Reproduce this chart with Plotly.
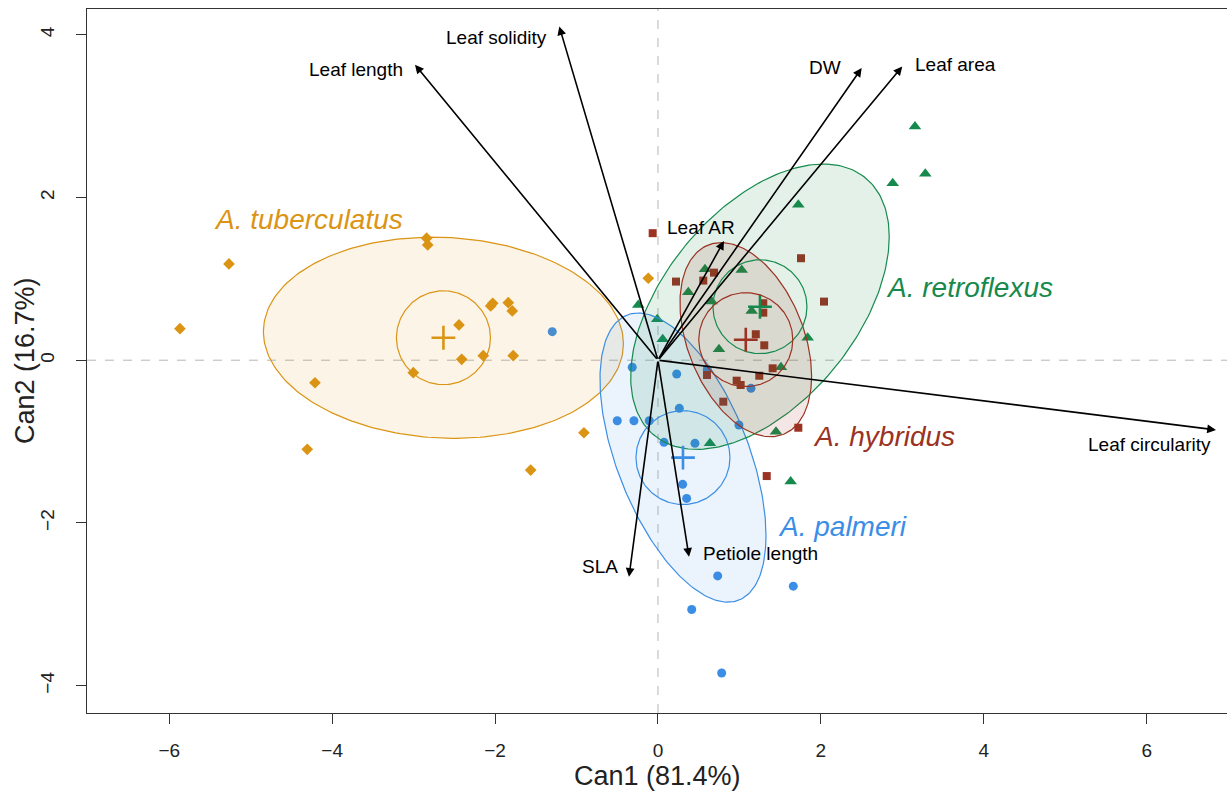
import numpy as np
import plotly.graph_objects as go

# ---------------- data (canonical scores) ----------------
species = ["A. tuberculatus", "A. palmeri", "A. retroflexus", "A. hybridus"]

tub_x = [-2.840, -2.827, -2.054, -2.029, -1.838, -1.789, -2.443, -2.410, -2.145,
         -1.777, -3.004, -4.211, -0.909, -4.306, -0.119, -5.267, -5.869, -1.563]
tub_y = [1.499, 1.417, 0.667, 0.700, 0.707, 0.605, 0.433, 0.011, 0.055,
         0.055, -0.154, -0.277, -0.892, -1.096, 1.007, 1.183, 0.387, -1.351]

pal_x = [-1.298, -0.316, 0.230, 0.605, 1.142, 0.262, -0.500, -0.295, -0.107,
         0.994, 0.074, 0.454, 0.303, 0.352, 0.733, 1.661, 0.414, 0.782]
pal_y = [0.351, -0.087, -0.170, -0.112, -0.346, -0.592, -0.744, -0.744, -0.744,
         -0.797, -1.010, -1.022, -1.526, -1.699, -2.651, -2.777, -3.064, -3.844]

ret_x = [2.882, 1.723, 0.577, 1.028, 0.372, 0.659, -0.242, 1.150, -0.009,
         0.058, 1.838, 0.749, 1.510, 1.449, 0.638, 1.629, 3.155, 3.282]
ret_y = [2.176, 1.909, 1.118, 1.109, 0.835, 0.720, 0.679, 0.605, 0.503,
         0.257, 0.277, 0.134, -0.087, -0.879, -1.022, -1.490, 2.872, 2.290]

hyb_x = [-0.065, 1.756, 0.688, 0.221, 0.556, 2.038, 1.293, 1.293, 1.201,
         1.305, 1.408, 1.244, 0.966, 1.015, 0.602, 0.802, 1.723, 1.335]
hyb_y = [1.561, 1.253, 1.076, 0.966, 0.978, 0.720, 0.700, 0.584, 0.319,
         0.183, -0.100, -0.191, -0.252, -0.305, -0.182, -0.510, -0.830, -1.424]

# group means and data ellipses (half-width, half-height, correlation)
mean_x = [-2.634, 0.307, 1.252, 1.078]
mean_y = [0.276, -1.197, 0.657, 0.252]
ell_hw = [2.21, 1.019, 1.587, 0.808]
ell_hh = [1.236, 1.777, 1.753, 1.193]
ell_r = [-0.06, -0.54, 0.49, -0.375]
mean_radius = 0.577

# structure vectors
var_names = ["Leaf length", "Leaf solidity", "DW", "Leaf area", "Leaf AR",
             "Leaf circularity", "SLA", "Petiole length"]
var_x = [-2.983, -1.212, 2.501, 2.999, 0.810, 6.851, -0.356, 0.381]
var_y = [3.631, 4.102, 3.590, 3.610, 1.466, -0.857, -2.663, -2.417]

x_ticks = [-6, -4, -2, 0, 2, 4, 6]
y_ticks = [-4, -2, 0, 2, 4]
x_title = "Can1 (81.4%)"
y_title = "Can2 (16.7%)"

# ---------------- styles ----------------
FONT = "Liberation Sans, Arial, Helvetica, sans-serif"
colors = ["#DB9414", "#3B8EE5", "#168A4C", "#9B3222"]
fills = ["rgba(219,148,20,0.10)", "rgba(59,142,229,0.10)",
         "rgba(22,138,76,0.12)", "rgba(155,50,34,0.12)"]
symbols = ["diamond", "circle", "triangle-up", "square"]
msizes = [9, 9, 11, 8]

# label placement for vectors: (xanchor, xshift, yshift)
vec_label_style = [("right", -10, -5), ("right", -10, -11), ("right", -19, 1),
                   ("left", 11, 2), ("center", -23, 13), ("right", -3, -15),
                   ("right", -9, 10), ("left", 12, 3)]
# species label placement (x, y of left edge, data units)
sp_label_pos = [(-5.48, 1.724), (1.45, -2.048), (2.78, 0.888), (1.88, -0.941)]

pts_x = [tub_x, pal_x, ret_x, hyb_x]
pts_y = [tub_y, pal_y, ret_y, hyb_y]

fig = go.Figure()

# reference lines
fig.add_shape(type="line", x0=0, x1=0, y0=-4.336, y1=4.316, xref="x", yref="y",
              line=dict(color="#B5B5B5", width=1, dash="dash"), layer="below")
fig.add_shape(type="line", x0=-7.01, x1=6.986, y0=0, y1=0, xref="x", yref="y",
              line=dict(color="#B5B5B5", width=1, dash="dash"), layer="below")

t = np.linspace(0, 2 * np.pi, 240)


def ellipse(cx, cy, hw, hh, r):
    l11 = hw
    l21 = r * hh
    l22 = hh * np.sqrt(1 - r * r)
    return cx + l11 * np.cos(t), cy + l21 * np.cos(t) + l22 * np.sin(t)


# points
for i in range(4):
    fig.add_trace(go.Scatter(x=pts_x[i], y=pts_y[i], mode="markers",
                             marker=dict(symbol=symbols[i], size=msizes[i], color=colors[i],
                                         line=dict(width=0)),
                             showlegend=False, hoverinfo="skip"))

# data ellipses (filled)
for i in range(4):
    ex, ey = ellipse(mean_x[i], mean_y[i], ell_hw[i], ell_hh[i], ell_r[i])
    fig.add_trace(go.Scatter(x=ex, y=ey, mode="lines", fill="toself",
                             fillcolor=fills[i], line=dict(color=colors[i], width=1.2),
                             showlegend=False, hoverinfo="skip"))

# mean circles and centroids
for i in range(4):
    ex, ey = ellipse(mean_x[i], mean_y[i], mean_radius, mean_radius, 0.0)
    fig.add_trace(go.Scatter(x=ex, y=ey, mode="lines",
                             line=dict(color=colors[i], width=1.2),
                             showlegend=False, hoverinfo="skip"))
    fig.add_trace(go.Scatter(x=[mean_x[i]], y=[mean_y[i]], mode="markers",
                             marker=dict(symbol="cross-thin", size=17, color=colors[i],
                                         line=dict(width=2.6, color=colors[i])),
                             showlegend=False, hoverinfo="skip"))

annotations = []
# vectors
for i, name in enumerate(var_names):
    annotations.append(dict(x=var_x[i], y=var_y[i], ax=0, ay=0, xref="x", yref="y",
                            axref="x", ayref="y", text="", showarrow=True,
                            arrowhead=2, arrowsize=1.1, arrowwidth=1.6,
                            arrowcolor="#000000"))
    xa, xs, ys = vec_label_style[i]
    annotations.append(dict(x=var_x[i], y=var_y[i], xref="x", yref="y", text=name,
                            showarrow=False, xanchor=xa, yanchor="middle",
                            xshift=xs, yshift=ys,
                            font=dict(family=FONT, size=19, color="#000000")))

# species labels
for i, name in enumerate(species):
    annotations.append(dict(x=sp_label_pos[i][0], y=sp_label_pos[i][1], xref="x", yref="y",
                            text="<i>" + name + "</i>", showarrow=False,
                            xanchor="left", yanchor="middle",
                            font=dict(family=FONT, size=28, color=colors[i])))

# axis titles
annotations.append(dict(x=0.5, y=0, xref="paper", yref="paper", text=x_title,
                        showarrow=False, xanchor="center", yanchor="middle", yshift=-63,
                        font=dict(family=FONT, size=27, color="#222222")))
annotations.append(dict(x=0, y=0.5, xref="paper", yref="paper", text=y_title,
                        showarrow=False, xanchor="center", yanchor="middle", xshift=-62,
                        textangle=-90,
                        font=dict(family=FONT, size=27, color="#222222")))

fig.update_layout(
    width=1227, height=793,
    margin=dict(l=87, r=0, t=9, b=80),
    plot_bgcolor="white", paper_bgcolor="white",
    annotations=annotations,
    xaxis=dict(range=[-7.01, 6.986], tickvals=x_ticks, ticks="outside", ticklen=10,
               tickwidth=1.2, tickcolor="#333333", showgrid=False, zeroline=False,
               showline=True, linecolor="#333333", linewidth=1.3, mirror=True,
               ticklabelstandoff=10,
               tickfont=dict(family=FONT, size=19, color="#222222")),
    yaxis=dict(range=[-4.336, 4.316], tickvals=y_ticks, ticks="outside", ticklen=10,
               tickwidth=1.2, tickcolor="#333333", showgrid=False, zeroline=False,
               showline=True, linecolor="#333333", linewidth=1.3, mirror=False,
               tickangle=-90, ticklabelstandoff=14,
               tickfont=dict(family=FONT, size=19, color="#222222")),
)

fig.write_html("out.html", config={"displayModeBar": False},
               post_script="document.body.style.margin='0';document.body.style.overflow='hidden';")
